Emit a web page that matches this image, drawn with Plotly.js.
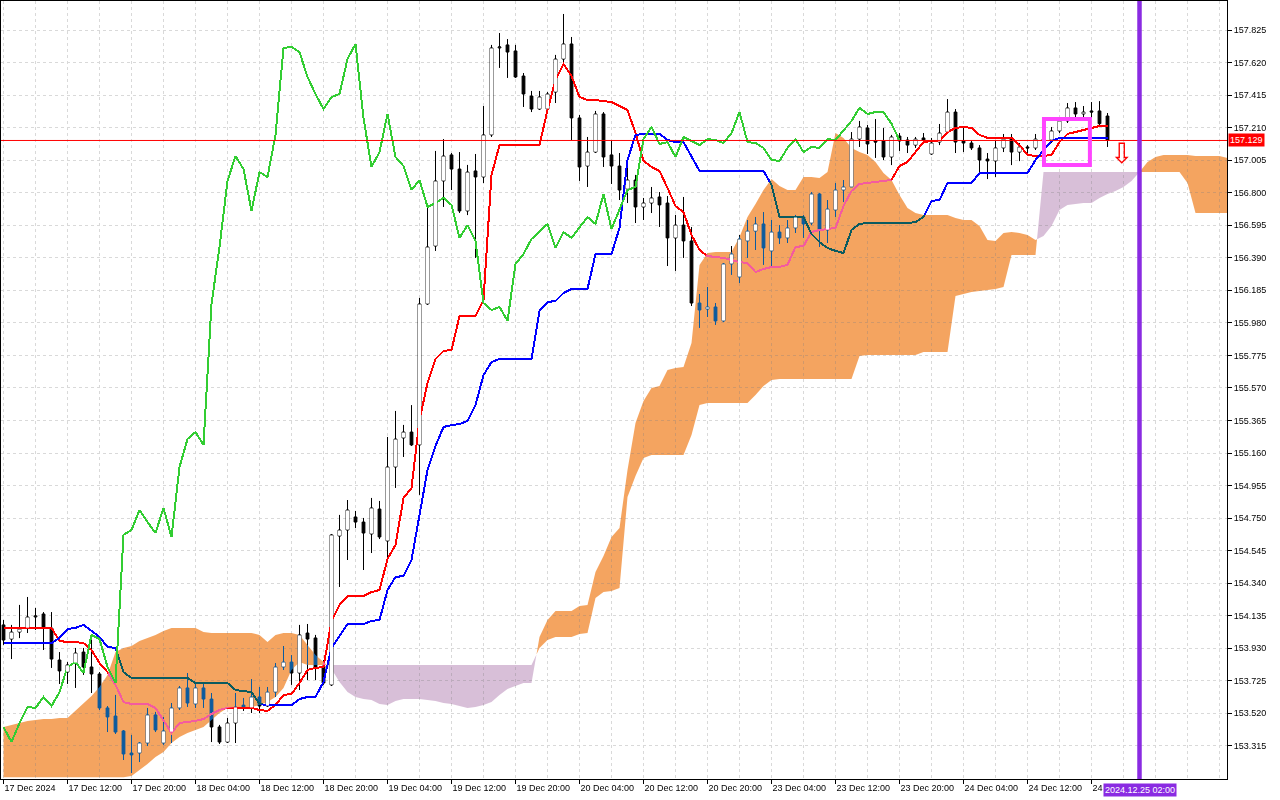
<!DOCTYPE html>
<html><head><meta charset="utf-8">
<script src="https://cdn.plot.ly/plotly-3.0.1.min.js"></script>
<style>
html,body{margin:0;padding:0;background:#fff;}
#chart{width:1280px;height:800px;}
.js-fill{mix-blend-mode:exclusion;}
.cartesianlayer .overplot g, .cartesianlayer .plot, .cartesianlayer .plot g, .scatterlayer, .scatterlayer g{clip-path:none !important;}
.scatterlayer .trace:not(:last-child) .js-line{shape-rendering:crispEdges;}
</style></head><body><div id="chart"></div>
<script>
// ---- hourly bars, index 0 = 17 Dec 04:00 ----
const opens=[154.077,153.988,154.032,154.057,154.127,154.146,154.057,153.856,153.780,153.837,
153.906,153.812,153.768,153.554,153.503,153.409,153.270,153.270,153.333,153.510,
153.333,153.402,153.554,153.680,153.579,153.680,153.610,153.434,153.339,153.459,
153.572,153.554,153.623,153.566,153.654,153.812,153.843,153.774,154.026,153.995,
153.818,153.699,154.637,154.675,154.757,154.725,154.650,154.807,154.606,155.072,
155.255,155.292,155.211,156.099,156.464,156.874,157.038,156.949,156.685,156.937,
156.899,157.164,157.712,157.731,157.693,157.535,157.409,157.327,157.327,157.434,
157.642,157.737,157.271,156.968,157.056,157.296,157.038,156.968,156.823,156.880,
156.710,156.735,156.773,156.735,156.515,156.596,156.496,156.105,156.067,156.080,
155.992,156.351,156.269,156.496,156.558,156.603,156.433,156.552,156.515,156.578,
156.647,156.609,156.792,156.565,156.691,156.817,156.836,157.138,157.208,157.126,
157.126,157.025,157.157,157.132,157.100,157.145,157.044,157.119,157.182,157.308,
157.126,157.113,157.082,157.012,157.000,157.082,157.145,157.056,157.088,157.082,
157.138,157.132,157.189,157.252,157.334,157.296,157.315,157.315,157.283];
const highs=[154.108,154.077,154.203,154.253,154.184,154.158,154.158,153.906,153.843,153.932,
153.932,153.982,153.780,153.566,153.636,153.415,153.384,153.339,153.554,153.529,
153.497,153.585,153.692,153.774,153.705,153.705,153.648,153.447,153.491,153.648,
153.617,153.736,153.686,153.686,153.837,153.944,153.887,154.077,154.083,154.014,
153.856,154.650,154.770,154.864,154.795,154.751,154.877,154.858,155.261,155.425,
155.337,155.462,156.137,156.710,157.063,157.138,157.050,157.056,156.975,157.044,
157.346,157.731,157.806,157.768,157.731,157.554,157.441,157.441,157.434,157.668,
157.926,157.781,157.290,157.151,157.315,157.308,157.132,157.050,157.025,156.912,
156.767,156.836,156.804,156.779,156.660,156.773,156.584,156.162,156.206,156.105,
156.357,156.464,156.534,156.628,156.647,156.678,156.628,156.596,156.628,156.660,
156.660,156.804,156.798,156.754,156.861,156.880,157.182,157.252,157.227,157.264,
157.208,157.164,157.176,157.151,157.151,157.176,157.145,157.233,157.390,157.327,
157.208,157.132,157.100,157.050,157.126,157.170,157.170,157.113,157.100,157.170,
157.182,157.214,157.277,157.365,157.371,157.346,157.371,157.377,157.302];
const lows=[153.951,153.862,153.994,154.026,154.045,153.919,153.806,153.705,153.705,153.680,
153.762,153.648,153.541,153.402,153.390,153.226,153.144,153.213,153.314,153.402,
153.321,153.333,153.541,153.560,153.554,153.554,153.339,153.327,153.333,153.333,
153.535,153.522,153.522,153.560,153.623,153.793,153.699,153.667,153.730,153.730,
153.699,153.692,154.316,154.486,154.687,154.423,154.530,154.618,154.480,154.940,
155.135,155.204,154.896,156.093,156.433,156.710,156.817,156.672,156.659,156.389,
156.861,157.151,157.586,157.523,157.523,157.340,157.308,157.321,157.308,157.365,
157.617,157.132,156.874,156.836,157.050,156.962,156.855,156.754,156.735,156.609,
156.628,156.672,156.584,156.338,156.307,156.389,156.086,155.948,156.017,155.967,
155.985,156.282,156.231,156.389,156.439,156.345,156.332,156.477,156.483,156.546,
156.515,156.596,156.458,156.483,156.647,156.741,156.836,157.088,157.044,157.019,
157.006,156.974,157.063,157.050,157.082,157.113,157.038,157.100,157.176,157.050,
157.056,157.069,156.924,156.886,156.899,157.056,156.974,156.999,157.038,157.069,
157.100,157.113,157.176,157.239,157.258,157.271,157.271,157.216,157.088];
const closes=[153.982,154.032,154.051,154.127,154.133,154.064,153.862,153.787,153.825,153.900,
153.812,153.768,153.554,153.497,153.402,153.264,153.258,153.333,153.510,153.415,
153.409,153.554,153.680,153.585,153.680,153.610,153.434,153.339,153.459,153.560,
153.554,153.623,153.566,153.654,153.812,153.843,153.774,154.014,153.988,153.812,
153.711,154.644,154.675,154.801,154.725,154.656,154.814,154.631,155.072,155.248,
155.292,155.211,156.099,156.458,156.874,157.031,156.949,156.685,156.930,156.899,
157.164,157.712,157.718,157.686,157.529,157.422,157.327,157.403,157.422,157.642,
157.737,157.271,156.962,157.056,157.296,157.025,156.968,156.817,156.880,156.710,
156.735,156.767,156.723,156.515,156.596,156.496,156.105,156.061,156.080,155.992,
156.351,156.414,156.508,156.558,156.603,156.452,156.552,156.515,156.578,156.647,
156.603,156.792,156.571,156.697,156.817,156.836,157.138,157.214,157.107,157.119,
157.025,157.151,157.126,157.100,157.138,157.132,157.113,157.176,157.308,157.119,
157.113,157.082,157.006,157.000,157.082,157.138,157.056,157.088,157.082,157.138,
157.132,157.189,157.252,157.334,157.296,157.308,157.308,157.235,157.129];
const tenkan=[154.058,154.058,154.058,154.058,154.058,154.058,154.058,
153.976,153.969,153.969,153.963,153.919,153.837,153.780,153.699,153.591,
153.579,153.579,153.579,153.554,153.478,153.396,153.459,153.465,153.472,153.484,
153.516,153.541,153.554,153.554,153.554,153.554,153.541,153.535,153.572,153.636,
153.642,153.711,153.793,153.806,153.812,154.102,154.203,154.259,154.259,154.259,
154.284,154.297,154.492,154.581,154.877,154.940,155.368,155.601,155.752,155.803,
155.809,156.023,156.023,156.023,156.124,156.912,157.100,157.100,157.100,157.100,
157.100,157.100,157.321,157.510,157.611,157.535,157.403,157.384,157.384,157.378,
157.371,157.346,157.321,157.176,157.000,156.962,156.937,156.830,156.716,156.678,
156.534,156.439,156.401,156.395,156.389,156.376,156.363,156.357,156.300,156.319,
156.332,156.332,156.345,156.458,156.464,156.552,156.565,156.571,156.578,156.716,
156.811,156.855,156.861,156.867,156.874,156.880,156.968,156.993,157.056,157.119,
157.126,157.126,157.182,157.208,157.214,157.208,157.164,157.145,157.145,157.145,
157.145,157.100,157.038,157.031,157.031,157.038,157.119,157.170,157.182,157.195,
157.208,157.220,157.220];
const kijun=[153.963,153.963,153.963,153.963,153.963,153.963,153.963,
153.995,154.051,154.058,154.077,154.039,154.001,153.938,153.932,153.780,
153.743,153.743,153.743,153.743,153.743,153.743,153.743,153.743,153.711,153.711,
153.711,153.711,153.711,153.667,153.661,153.654,153.579,153.572,153.572,153.572,
153.572,153.610,153.623,153.623,153.718,153.932,154.007,154.083,154.083,154.083,
154.102,154.108,154.297,154.379,154.385,154.486,154.770,155.053,155.204,155.324,
155.336,155.343,155.362,155.463,155.651,155.733,155.752,155.752,155.752,155.752,
155.752,156.055,156.111,156.118,156.168,156.193,156.193,156.193,156.414,156.414,
156.414,156.578,157.006,157.164,157.170,157.170,157.170,157.132,157.119,157.119,
157.031,156.937,156.937,156.937,156.937,156.937,156.937,156.937,156.937,156.937,
156.849,156.647,156.647,156.647,156.647,156.540,156.489,156.452,156.433,156.420,
156.565,156.603,156.609,156.609,156.609,156.609,156.609,156.609,156.615,156.647,
156.748,156.754,156.861,156.861,156.861,156.861,156.924,156.924,156.924,156.924,
156.924,156.924,156.924,157.006,157.069,157.126,157.145,157.145,157.145,157.145,
157.145,157.145,157.145];
const spanA=[153.434,153.447,153.459,153.472,153.478,153.484,153.484,153.491,153.491,153.535,
153.585,153.629,153.686,153.761,153.906,153.932,153.944,153.976,153.995,154.014,
154.039,154.058,154.058,154.058,154.058,154.032,154.026,154.026,154.026,154.026,
154.026,154.026,154.014,153.969,154.014,154.026,154.026,154.014,153.951,153.888,
153.843,153.799,153.717,153.654,153.623,153.610,153.604,153.579,153.572,153.598,
153.610,153.610,153.610,153.604,153.598,153.585,153.579,153.566,153.554,153.560,
153.572,153.591,153.636,153.673,153.692,153.711,153.711,154.001,154.108,154.165,
154.165,154.165,154.196,154.203,154.410,154.511,154.631,154.688,155.053,155.349,
155.488,155.570,155.582,155.683,155.696,155.702,155.853,156.345,156.420,156.426,
156.426,156.426,156.521,156.647,156.729,156.817,156.886,156.842,156.817,156.817,
156.899,156.899,156.893,156.930,157.176,157.145,157.082,157.056,157.038,156.993,
156.924,156.880,156.786,156.704,156.672,156.659,156.659,156.659,156.659,156.641,
156.628,156.628,156.590,156.502,156.496,156.546,156.552,156.546,156.534,156.502,
156.527,156.590,156.691,156.722,156.729,156.735,156.735,156.767,156.792,156.811,
156.836,156.874,156.930,156.993,157.025,157.038,157.038,157.038,157.038,157.031,
157.031,157.031,157.031,157.019];
const spanB=[153.118,153.118,153.118,153.118,153.118,153.118,153.118,153.118,153.118,153.118,
153.118,153.118,153.118,153.118,153.118,153.118,153.125,153.163,153.201,153.245,
153.276,153.333,153.371,153.396,153.415,153.434,153.478,153.522,153.554,153.560,
153.560,153.560,153.572,153.591,153.623,153.680,153.793,153.843,153.824,153.824,
153.824,153.824,153.824,153.824,153.824,153.824,153.824,153.824,153.824,153.824,
153.824,153.824,153.824,153.824,153.824,153.824,153.824,153.824,153.824,153.824,
153.824,153.824,153.824,153.824,153.824,153.824,153.824,153.932,153.982,154.001,
154.001,154.001,154.020,154.026,154.247,154.285,154.291,154.310,154.883,155.015,
155.129,155.148,155.148,155.148,155.148,155.148,155.274,155.463,155.475,155.475,
155.475,155.475,155.475,155.475,155.526,155.582,155.620,155.626,155.626,155.626,
155.626,155.626,155.626,155.626,155.626,155.626,155.626,155.771,155.777,155.777,
155.777,155.777,155.777,155.777,155.777,155.796,155.796,155.796,155.796,156.149,
156.162,156.174,156.181,156.187,156.193,156.206,156.408,156.408,156.408,156.408,
156.930,156.930,156.930,156.930,156.930,156.930,156.930,156.930,156.930,156.930,
156.930,156.930,156.930,156.930,156.930,156.930,156.930,156.930,156.861,156.672,
156.672,156.672,156.672,156.672];
const tickIdx=[0,8,16,24,32,40,48,56,64,72,80,88,96,104,112,120,128,136];
const tickText=["17 Dec 2024","17 Dec 12:00","17 Dec 20:00","18 Dec 04:00","18 Dec 12:00","18 Dec 20:00",
"19 Dec 04:00","19 Dec 12:00","19 Dec 20:00","20 Dec 04:00","20 Dec 12:00","20 Dec 20:00",
"23 Dec 04:00","23 Dec 12:00","23 Dec 20:00","24 Dec 04:00","24 Dec 12:00","24 Dec 20:00"];
const priceTicks=[153.315,153.520,153.725,153.930,154.135,154.340,154.545,154.750,154.955,155.160,
155.365,155.570,155.775,155.980,156.185,156.390,156.595,156.800,157.005,157.210,157.415,157.620,157.825];
const lastPrice=157.129;
const markerBar=142, markerLabel="2024.12.25 02:00";
const signalBar=139.75, signalPrice=157.047;
const boxBars=[130.06,135.8], boxPrices=[156.974,157.264];
const SHIFT=26;

// ---- build ----
const bars=opens.map((_,i)=>i);
const cloudX=spanA.map((_,i)=>i);
const cx=[],ca=[],cb=[];
for(let i=0;i<spanA.length;i++){
  if(i>0){
    const d0=spanA[i-1]-spanB[i-1], d1=spanA[i]-spanB[i];
    if(d0*d1<0){const t=d0/(d0-d1);const yv=spanA[i-1]+(spanA[i]-spanA[i-1])*t;cx.push(i-1+t);ca.push(yv);cb.push(yv);}
  }
  cx.push(cloudX[i]);ca.push(spanA[i]);cb.push(spanB[i]);
}
const cTop=ca.map((a,k)=>Math.max(a,cb[k]));
const chX=[],chY=[];
for(let i=SHIFT;i<closes.length;i++){chX.push(i-SHIFT);chY.push(closes[i]);}
const bx=[],by=[];const eps=0.0032;
for(let i=0;i<bars.length;i++){
  if(closes[i]-opens[i]>2*eps+0.001){bx.push(i,i,null);by.push(opens[i]+eps,closes[i]-eps,null);}
}
const font={family:'Liberation Sans, Arial, sans-serif',size:9,color:'#000'};
const gridC='#d9d9d9';
const traces=[
 {type:'candlestick',x:bars,open:opens,high:highs,low:lows,close:closes,hoverinfo:'none',
  increasing:{line:{color:'#000',width:1},fillcolor:'#fff'},
  decreasing:{line:{color:'#000',width:1},fillcolor:'#000'},whiskerwidth:0},
 {type:'scatter',mode:'lines',x:bars,y:tenkan,line:{color:'#ff0000',width:2},hoverinfo:'skip',cliponaxis:false},
 {type:'scatter',mode:'lines',x:bars,y:kijun,line:{color:'#0000ff',width:2},hoverinfo:'skip',cliponaxis:false},
 {type:'scatter',mode:'lines',x:cx,y:cb,line:{width:0,color:'rgba(0,0,0,0)'},hoverinfo:'skip',cliponaxis:false},
 {type:'scatter',mode:'lines',x:cx,y:cTop,line:{width:0,color:'rgba(0,0,0,0)'},fill:'tonexty',fillcolor:'rgb(11,91,159)',hoverinfo:'skip',cliponaxis:false},
 {type:'scatter',mode:'lines',x:cx,y:ca,line:{width:0,color:'rgba(0,0,0,0)'},hoverinfo:'skip',cliponaxis:false},
 {type:'scatter',mode:'lines',x:cx,y:cTop,line:{width:0,color:'rgba(0,0,0,0)'},fill:'tonexty',fillcolor:'rgb(39,64,39)',hoverinfo:'skip',cliponaxis:false},
 {type:'scatter',mode:'lines',x:chX,y:chY,line:{color:'#32cd32',width:2},hoverinfo:'skip',cliponaxis:false},
 {type:'scatter',mode:'lines',x:bx,y:by,line:{color:'#ffffff',width:3},hoverinfo:'skip',cliponaxis:false,connectgaps:false}
];
const gridIdx=[];for(let g=0;g<=152;g+=4)gridIdx.push(g);
const layout={
 width:1280,height:800,margin:{l:1,r:53,t:1,b:21,pad:0},
 paper_bgcolor:'#fff',plot_bgcolor:'#fff',showlegend:false,boxgap:0.5,font:font,
 xaxis:{range:[-0.3125,152.9375],tickmode:'array',tickvals:tickIdx,ticktext:tickText,ticks:'outside',ticklen:4,
   tickcolor:'#000',ticklabelposition:'outside right',showgrid:true,gridcolor:gridC,griddash:'3px,3px',gridwidth:1,
   minor:{tickmode:'array',tickvals:gridIdx,showgrid:true,gridcolor:gridC,griddash:'3px,3px',ticks:''},
   showline:true,linecolor:'#000',linewidth:1,mirror:true,zeroline:false,rangeslider:{visible:false},fixedrange:true,tickfont:font},
 yaxis:{range:[153.1063,158.0077],side:'right',tickmode:'array',tickvals:priceTicks,tickformat:'.3f',ticks:'outside',ticklen:4,
   tickcolor:'#000',showgrid:true,gridcolor:gridC,griddash:'3px,3px',showline:true,linecolor:'#000',linewidth:1,mirror:true,
   zeroline:false,fixedrange:true,tickfont:font},
 shapes:[
  {type:'rect',xref:'paper',x0:0,x1:1,yref:'paper',y0:0,y1:1,fillcolor:'#ffffff',line:{width:0},layer:'below'},
  {type:'line',xref:'paper',x0:0,x1:1,yref:'y',y0:lastPrice,y1:lastPrice,line:{color:'#ff0000',width:1},layer:'above'},
  {type:'line',xref:'x',x0:markerBar,x1:markerBar,yref:'paper',y0:0,y1:1,line:{color:'#8a2be2',width:4.5},layer:'above'},
  {type:'rect',xref:'x',x0:boxBars[0],x1:boxBars[1],yref:'y',y0:boxPrices[0],y1:boxPrices[1],line:{color:'#ff44ff',width:4},layer:'above'}
 ],
 annotations:[
  {xref:'paper',x:1,xanchor:'left',xshift:1,yref:'y',y:lastPrice,yanchor:'middle',text:lastPrice.toFixed(3),showarrow:false,
   bgcolor:'#ff0000',font:{family:font.family,size:9,color:'#fff'},borderpad:1},
  {xref:'x',x:markerBar,xanchor:'center',yref:'paper',y:0,yanchor:'top',yshift:-4,text:markerLabel,showarrow:false,
   bgcolor:'#8a2be2',font:{family:font.family,size:9,color:'#fff'},borderpad:1},
  {xref:'x',x:signalBar,yref:'y',y:signalPrice,text:'\u21e9',showarrow:false,font:{family:'DejaVu Sans',size:28,color:'#ff0000'}}
 ]
};
Plotly.newPlot('chart',traces,layout,{displayModeBar:false,staticPlot:true});
</script></body></html>
